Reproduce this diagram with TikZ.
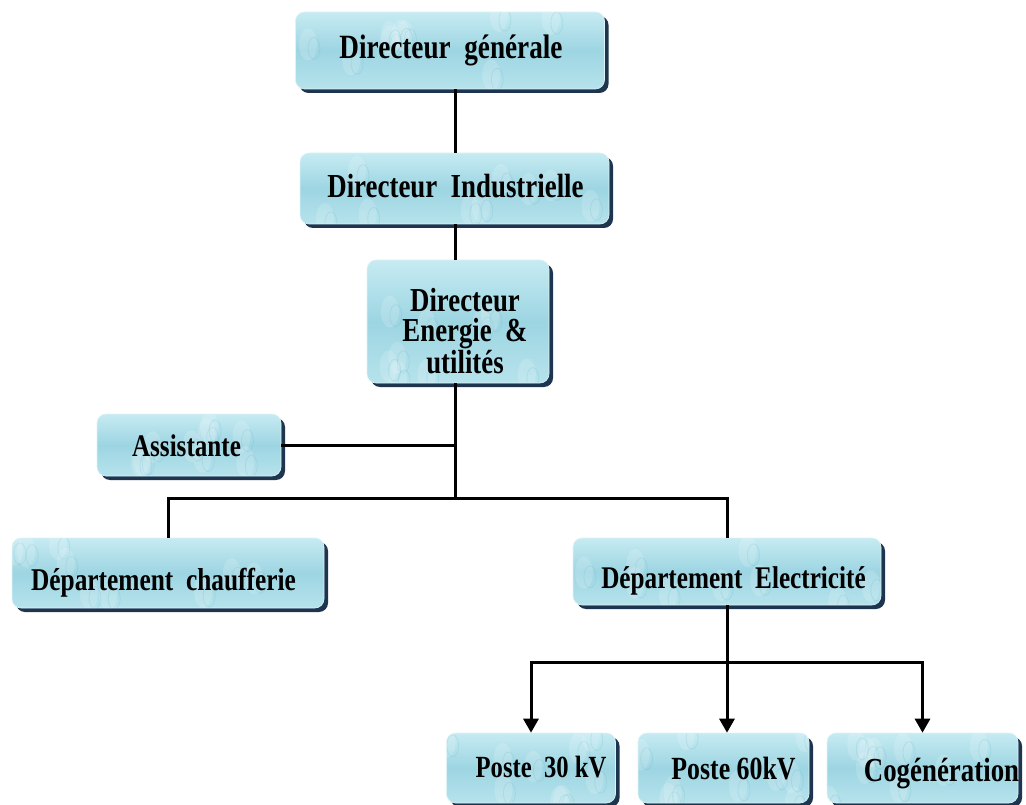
\documentclass[tikz,border=0pt]{standalone}
\usepackage{fontspec}
% condensed bold serif for all box texts
\setmainfont{Liberation Serif}[FakeStretch=0.8]
\usetikzlibrary{arrows.meta,shadows,calc}
\definecolor{boxtop}{HTML}{C6EBF2}
\definecolor{boxmid}{HTML}{9DD5E2}
\definecolor{boxbot}{HTML}{B6E3EC}
\definecolor{boxshadow}{HTML}{1E3550}
\definecolor{boxedge}{HTML}{DDF3F7}
\definecolor{dropdark}{HTML}{5FB3C6}
\begin{document}
\begin{tikzpicture}[x=1pt,y=-1pt,
  orgbox/.style={rounded corners=9pt, top color=boxtop, bottom color=boxbot,
    middle color=boxmid, draw=boxedge, line width=0.6pt,
    drop shadow={shadow xshift=4pt,shadow yshift=-4pt,fill=boxshadow,opacity=1},
    inner sep=0pt,
    path picture={
      \foreach \k in {1,...,9}{
        \pgfmathsetmacro{\u}{rnd}\pgfmathsetmacro{\v}{rnd}
        \coordinate (tA) at ($(path picture bounding box.south west)!\u!(path picture bounding box.south east)$);
        \coordinate (tB) at ($(path picture bounding box.north west)!\u!(path picture bounding box.north east)$);
        \fill[white, opacity=0.16] ($(tA)!\v!(tB)$) ellipse [x radius=9pt, y radius=16pt];
        \draw[dropdark, opacity=0.2, line width=0.8pt] ($(tA)!\v!(tB)+(6,4)$) ellipse [x radius=6pt, y radius=11pt];
      }
    }},
  boxfont/.style={font=\fontsize{#1}{30.5}\selectfont\bfseries,
    text=black, align=center, inner sep=0pt},
  % single-line texts: the label's centre sits on the baseline
  boxtext/.style={boxfont=#1, text height=0pt, text depth=0pt},
  link/.style={line width=3pt, draw=black, line join=miter},
  tip/.style={-{Triangle[width=15pt,length=14pt]}}
]
\pgfmathsetseed{11}
\path[use as bounding box] (0,0) rectangle (1026,805);

% boxes
\node[orgbox, minimum width=309pt, minimum height=77pt,
  label={[boxtext=34, xshift=1pt, yshift=-8.5pt]center:Directeur\ \ générale}]
  (gen) at (450,50.5) {};
\node[orgbox, minimum width=309pt, minimum height=71pt,
  label={[boxtext=33.6, xshift=1pt, yshift=-9.5pt]center:Directeur\ \ Industrielle}]
  (ind) at (454.5,188.5) {};
\node[orgbox, minimum width=182pt, minimum height=123pt,
  label={[boxfont=33.5, xshift=7pt, yshift=-9.5pt]center:Directeur\\Energie\ \ \&\\utilités}]
  (ener) at (458,321.5) {};
\node[orgbox, minimum width=184pt, minimum height=62pt,
  label={[boxtext=31.4, xshift=-2.5pt, yshift=-11pt]center:Assistante}]
  (asst) at (189,445) {};
\node[orgbox, minimum width=312pt, minimum height=70pt,
  label={[boxtext=31.7, xshift=-4.5pt, yshift=-17pt]center:Département\ \ chaufferie}]
  (chauf) at (168,573) {};
\node[orgbox, minimum width=308pt, minimum height=67pt,
  label={[boxtext=31.5, xshift=6.5pt, yshift=-16.5pt]center:Département\ \ Electricité}]
  (elec) at (727,571.5) {};
\node[orgbox, minimum width=169pt, minimum height=70pt,
  label={[boxtext=30.8, xshift=10pt, yshift=-9pt]center:Poste\ \ 30 kV}]
  (p30) at (531,768) {};
\node[orgbox, minimum width=171pt, minimum height=70pt,
  label={[boxtext=32.3, xshift=10pt, yshift=-11pt]center:Poste 60kV}]
  (p60) at (723.5,768) {};
\node[orgbox, minimum width=191pt, minimum height=70pt,
  label={[boxtext=33.6, xshift=19pt, yshift=-13pt]center:Cogénération}]
  (cog) at (922.5,768) {};

% connectors
\coordinate (spine) at (455,0);
\coordinate (j1) at (455,498);
\coordinate (j2) at (727,662);
\draw[link] (gen.south -| spine) -- (ind.north -| spine);
\draw[link] (ind.south -| spine) -- (ener.north -| spine);
\draw[link] (ener.south -| spine) -- (j1);
\draw[link] (asst.east) -- (asst.east -| spine);
\draw[link] (chauf.north) -- (chauf.north |- j1) -- (elec.north |- j1) -- (elec.north);
\draw[link] (elec.south) -- (j2);
\draw[link, tip] (j2) -| (p30.north);
\draw[link, tip] (j2) -- (j2 |- p60.north);
\draw[link, tip] (j2) -| (cog.north);
\end{tikzpicture}
\end{document}
